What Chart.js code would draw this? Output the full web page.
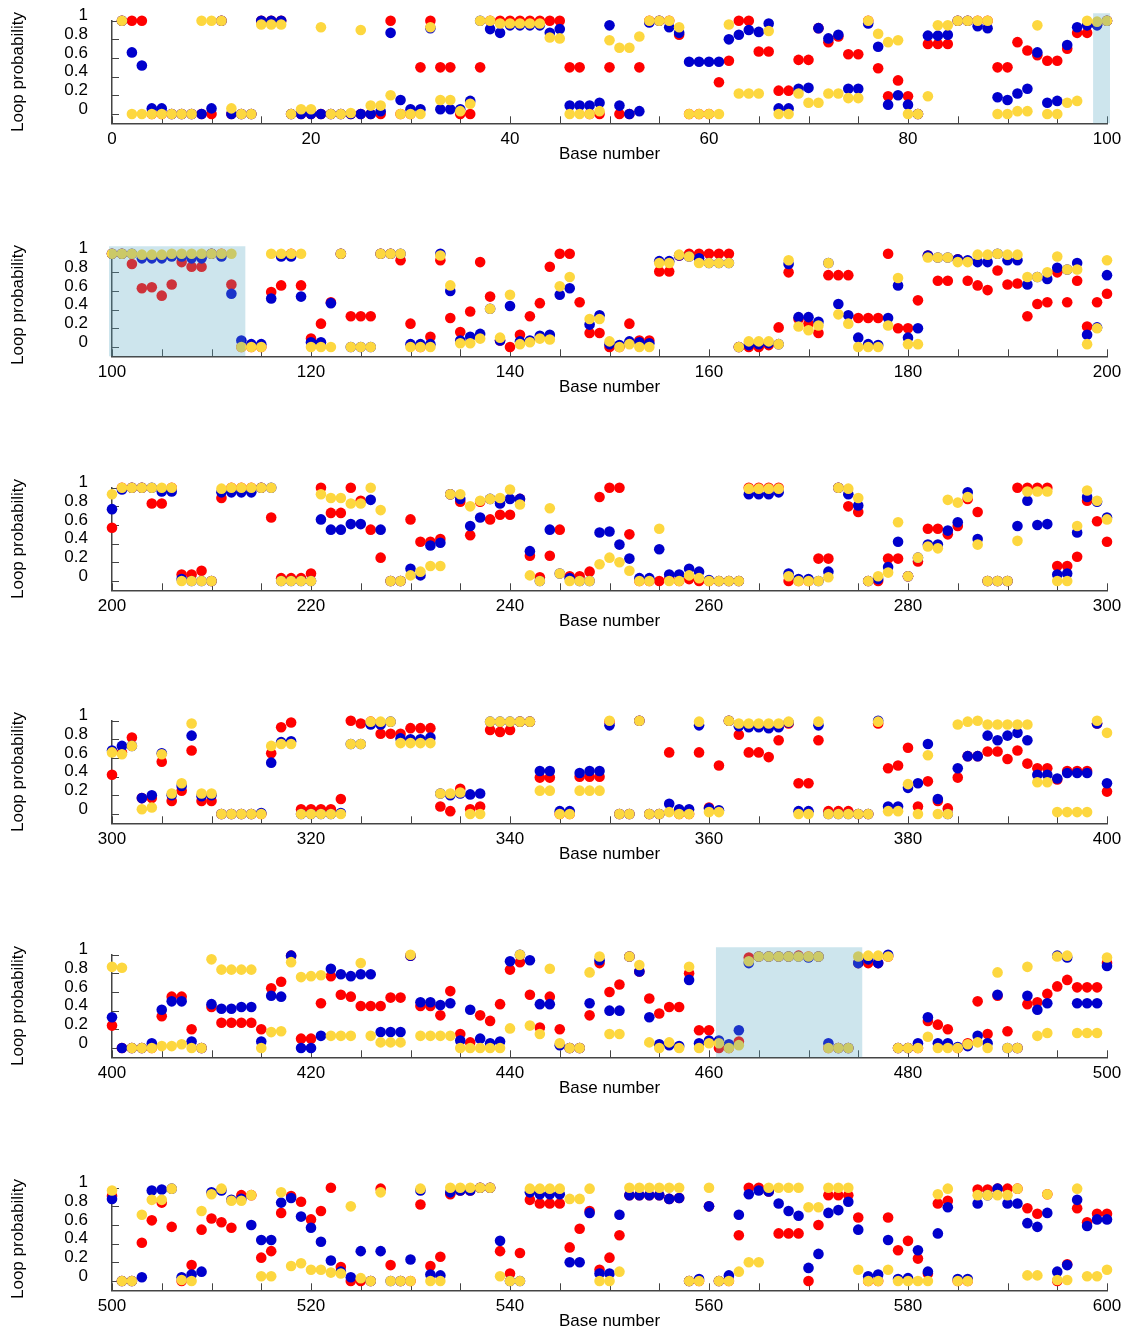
<!DOCTYPE html>
<html>
<head>
<meta charset="utf-8">
<script src="https://cdn.jsdelivr.net/npm/chart.js@4.4.1/dist/chart.umd.min.js"></script>
<style>
  html, body { margin: 0; padding: 0; background: #fff; overflow: hidden; }
  .panel { position: absolute; left: 0; width: 1131px; }
</style>
</head>
<body>
<div id="wrap"></div>
<script>
// loop probability per base (index 0 = base 1)
const redProb = [
  1, 1, 1, 0, 0, 0, 0, 0, 0, 0,
  1, 0, 0, 0, 1, 1, 1, 0, 0, 0,
  0, 0, 0, 0, 0, 0, 0, 1, 0, 0,
  0.5, 1, 0.5, 0.5, 0, 0, 0.5, 1, 1, 1,
  1, 1, 1, 1, 1, 0.5, 0.5, 0, 0, 0.5,
  0, 0, 0.5, 1, 1, 1, 0.85, 0, 0, 0,
  0.34, 0.57, 1, 1, 0.67, 0.67, 0.25, 0.25, 0.58, 0.58,
  0.92, 0.77, 0.83, 0.64, 0.64, 1, 0.49, 0.19, 0.36, 0.19,
  0, 0.75, 0.75, 0.75, 1, 1, 1, 1, 0.5, 0.5,
  0.77, 0.68, 0.63, 0.57, 0.57, 0.7, 0.87, 0.87, 0.96, 1,
  // 101-200
  1, 0.89, 0.63, 0.64, 0.55, 0.67, 0.91, 0.86, 0.86, 1,
  1, 0.67, 0, 0, 0, 0.59, 0.66, 1, 0.66, 0.09,
  0.25, 0.48, 1, 0.33, 0.33, 0.33, 1, 1, 0.93, 0.25,
  0, 0.11, 0.93, 0.31, 0.16, 0.38, 0.91, 0.54, 0.07, 0,
  0.13, 0.33, 0.47, 0.86, 1, 1, 0.48, 0.15, 0.15, 0,
  0, 0.25, 0.07, 0.07, 0.81, 0.81, 0.98, 1, 1, 1,
  1, 1, 0, 0, 0, 0.02, 0.21, 0.8, 0.3, 0.25,
  0.15, 0.77, 0.77, 0.77, 0.31, 0.31, 0.31, 1, 0.2, 0.2,
  0.5, 0.98, 0.71, 0.71, 0.94, 0.71, 0.66, 0.61, 0.82, 0.67,
  0.68, 0.33, 0.46, 0.48, 0.8, 0.48, 0.71, 0.22, 0.48, 0.57,
  // 201-300
  1, 1, 1, 0.83, 0.83, 1, 0.07, 0.07, 0.11, 0,
  0.89, 1, 1, 1, 1, 0.68, 0.03, 0.03, 0.03, 0.08,
  1, 0.73, 0.73, 1, 0.86, 0.55, 0.25, 0, 0, 0.66,
  0.42, 0.42, 0.45, 0.93, 0.85, 0.49, 0.85, 0.66, 0.71, 0.71,
  0.88, 0.27, 0.04, 0.27, 0.55, 0.05, 0.05, 0.1, 0.9, 1,
  1, 0.5, 0, 0, 0, 0.02, 0, 0.02, 0, 0,
  0, 0, 0, 1, 1, 1, 1, 0, 0, 0,
  0.24, 0.24, 1, 0.8, 0.74, 0, 0, 0.24, 0.24, 0.05,
  0.21, 0.56, 0.56, 0.5, 0.59, 0.88, 0.74, 0, 0, 0,
  1, 1, 1, 1, 0.16, 0.16, 0.26, 0.86, 0.64, 0.42,
  // 301-400
  0.66, 0.82, 0.17, 0.17, 0.56, 0.14, 0.25, 0.68, 0.14, 0.14,
  0, 0, 0, 0, 0, 0.65, 0.93, 0.98, 0.05, 0.05,
  0.05, 0.05, 0.16, 1, 0.97, 0.99, 0.86, 0.86, 0.86, 0.92,
  0.92, 0.92, 0.08, 0.03, 0.27, 0.05, 0.08, 0.9, 0.88, 0.9,
  0.99, 0.99, 0.39, 0.39, 0, 0, 0.4, 0.4, 0.4, 0.99,
  0, 0, 1, 0, 0, 0.66, 0, 0, 0.66, 0.07,
  0.52, 1, 0.85, 0.66, 0.66, 0.61, 0.79, 0.97, 0.33, 0.33,
  0.79, 0.03, 0.03, 0.03, 0, 0, 0.97, 0.49, 0.52, 0.71,
  0.08, 0.35, 0.14, 0.06, 0.39, 0.62, 0.62, 0.67, 0.67, 0.59,
  0.68, 0.54, 0.49, 0.49, 0.37, 0.46, 0.46, 0.46, 0.97, 0.24,
  // 401-500
  0, 0, 0, 0, 0.34, 0.55, 0.55, 0.2, 0, 0.44,
  0.27, 0.27, 0.27, 0.27, 0.2, 0.64, 0.71, 0.99, 0.1, 0.1,
  0.48, 0.77, 0.57, 0.55, 0.45, 0.45, 0.45, 0.54, 0.54, 0.99,
  0.45, 0.45, 0.35, 0.61, 0.15, 0.06, 0.35, 0.29, 0.47, 0.84,
  0.92, 0.57, 0.22, 0.55, 0.2, 0, 0, 0.35, 0.91, 0.6,
  0.68, 0.98, 0.82, 0.53, 0.37, 0.44, 0.44, 0.8, 0.19, 0.19,
  0, 0, 0.07, 0.97, 0.98, 0.98, 0.98, 0.98, 0.99, 0.98,
  0.98, 0, 0, 0, 0.91, 0.91, 0.91, 0.98, 0, 0,
  0, 0.29, 0.25, 0.2, 0, 0.05, 0.5, 0.15, 0.56, 0.18,
  0, 0.47, 0.49, 0.58, 0.66, 0.73, 0.65, 0.65, 0.65, 0.91,
  // 501-600
  0, 0, 0.41, 0.65, 0.84, 0.58, 0, 0.17, 0.55, 0.67,
  0.63, 0.57, 0.92, 0.92, 0.25, 0.32, 0.73, 0.91, 0.85, 0.66,
  0.75, 1, 0.15, 0, 0, 0, 0.99, 0.17, 0, 0,
  0.82, 0.16, 0.26, 0.93, 0.97, 0.97, 1, 1, 0.32, 0.08,
  0.3, 0.87, 0.83, 0.83, 0.83, 0.36, 0.56, 0.75, 0.12, 0.25,
  0.49, 0.92, 0.92, 0.92, 0.92, 0.88, 0.89, 0, 0, 0.8,
  0, 0, 0.49, 1, 1, 0.96, 0.51, 0.51, 0.51, 0,
  0.6, 0.92, 0.92, 0.92, 0.68, 0, 0, 0.68, 0.33, 0.43,
  0.24, 0.08, 0.83, 0.86, 0, 0, 0.98, 0.98, 0.99, 0.99,
  0.99, 0.78, 0.72, 0.93, 0, 0.18, 0.78, 0.63, 0.72, 0.72
];

const blueProb = [
  1, 0.66, 0.52, 0.06, 0.06, 0, 0, 0, 0, 0.06,
  1, 0, 0, 0, 1, 1, 1, 0, 0, 0,
  0, 0, 0, 0, 0, 0, 0.03, 0.87, 0.15, 0.05,
  0.05, 0.92, 0.05, 0.05, 0.05, 0.14, 1, 0.91, 0.87, 0.95,
  0.95, 0.95, 0.95, 0.87, 0.91, 0.09, 0.09, 0.09, 0.12, 0.95,
  0.09, 0, 0.03, 0.98, 1, 0.93, 0.87, 0.56, 0.56, 0.56,
  0.56, 0.8, 0.85, 0.9, 0.88, 0.97, 0.06, 0.06, 0.27, 0.28,
  0.92, 0.81, 0.85, 0.27, 0.27, 0.97, 0.72, 0.1, 0.2, 0.1,
  0, 0.84, 0.84, 0.85, 1, 1, 0.94, 0.92, 0.18, 0.15,
  0.22, 0.27, 0.66, 0.12, 0.14, 0.74, 0.93, 0.95, 0.95, 1,
  // 101-200
  1, 1, 0.95, 0.95, 0.95, 0.97, 0.97, 0.95, 0.95, 1,
  0.97, 0.57, 0.07, 0.03, 0.03, 0.52, 0.97, 0.97, 0.54, 0.05,
  0.05, 0.47, 1, 0, 0, 0, 1, 1, 1, 0.03,
  0.03, 0.03, 1, 0.6, 0.07, 0.11, 0.14, 0.41, 0.07, 0.44,
  0.06, 0.07, 0.12, 0.13, 0.56, 0.63, null, 0.24, 0.34, 0.03,
  0.02, 0.06, 0.05, 0.04, 0.92, 0.92, 0.98, 0.97, 0.95, 0.9,
  0.9, 0.9, 0, 0.02, 0.03, 0.04, 0.03, 0.89, 0.32, 0.32,
  0.27, 0.9, 0.46, 0.34, 0.1, 0.03, 0.02, 0.31, 0.66, 0.1,
  0.2, 0.98, 0.96, 0.96, 0.94, 0.93, 0.91, 0.91, 1, 0.93,
  0.93, 0.67, 0.75, 0.73, 0.85, 0.83, 0.9, 0.13, 0.21, 0.77,
  // 201-300
  0.98, 1, 1, 1, 0.96, 0.96, 0.02, 0, 0, 0,
  0.95, 0.95, 0.95, 0.95, 1, 1, 0, 0, 0, 0,
  0.66, 0.55, 0.55, 0.61, 0.61, 0.87, 0.55, 0, 0, 0.13,
  0.06, 0.38, 0.41, 0.93, 0.88, 0.59, 0.68, 0.88, 0.83, 0.88,
  0.88, 0.32, 0, 0.55, 0.08, 0.03, 0, 0, 0.52, 0.53,
  0.39, 0.24, 0.03, 0.03, 0.34, 0.07, 0.07, 0.13, 0.1, 0.01,
  0, 0, 0, 0.93, 0.93, 0.93, 0.95, 0.08, 0.02, 0.02,
  0, 0.1, 1, 0.93, 0.81, 0, 0.02, 0.15, 0.42, 0.05,
  0.25, 0.39, 0.39, 0.54, 0.63, 0.95, 0.45, 0, 0, 0,
  0.59, 0.86, 0.6, 0.61, 0.07, 0.08, 0.52, 0.9, 0.85, 0.68,
  // 301-400
  0.73, 0.73, 0.17, 0.2, 0.65, 0.2, 0.3, 0.84, 0.19, 0.2,
  0, 0, 0, 0, 0.01, 0.55, 0.77, 0.78, 0, 0,
  0, 0, 0.01, 0.75, 0.75, 0.96, 0.96, 0.99, 0.81, 0.8,
  0.8, 0.82, 0.22, 0.2, 0.22, 0.21, 0.22, 0.99, 0.99, 0.99,
  0.99, 0.99, 0.46, 0.46, 0.03, 0.03, 0.44, 0.46, 0.46, 0.95,
  0, 0, 1, 0, 0, 0.11, 0.05, 0.05, 0.95, 0.06,
  0.04, 1, 0.94, 0.93, 0.93, 0.92, 0.93, 0.98, 0.03, 0.03,
  0.95, 0, 0, 0, 0, 0, 1, 0.08, 0.08, 0.28,
  0.33, 0.75, 0.16, 0, 0.49, 0.62, 0.62, 0.84, 0.79, 0.84,
  0.87, 0.79, 0.42, 0.42, 0.38, 0.44, 0.44, 0.44, 0.97, 0.33,
  // 401-500
  0, 0, 0, 0.05, 0.41, 0.5, 0.5, 0.07, 0, 0.47,
  0.42, 0.42, 0.44, 0.44, 0.07, 0.56, 0.55, 0.99, 0, 0,
  0.13, 0.85, 0.79, 0.77, 0.79, 0.79, 0.17, 0.17, 0.17, 0.99,
  0.49, 0.49, 0.46, 0.48, 0.08, 0.41, 0.1, 0.05, 0.07, 0.93,
  1, 0.94, 0.47, 0.47, 0.03, 0, 0, 0.48, 0.94, 0.4,
  0.4, 0.98, 0.82, 0.33, 0.04, 0.03, 0.02, 0.73, 0.05, 0.08,
  0.08, 0.04, 0.19, 0.91, 0.98, 0.98, 0.98, 0.98, 0.98, 0.97,
  0.98, 0.05, 0, 0, 0.91, 0.95, 0.91, 1, 0, 0,
  0.05, 0.33, 0.05, 0.05, 0.01, 0.02, 0.13, 0.05, 0.57, 0,
  0, 0.56, 0.41, 0.48, 0.99, 0.97, 0.48, 0.48, 0.48, 0.88,
  // 501-600
  0, 0, 0.04, 0.97, 0.98, 0.99, 0.04, 0.07, 0.1, 0.95,
  0.97, 0.87, 0.88, 0.6, 0.44, 0.44, 0.84, 0.89, 0.69, 0.57,
  0.42, 0.22, 0.1, 0.04, 0.32, 0, 0.32, 0, 0, 0.23,
  0.97, 0.07, 0.06, 0.95, 0.97, 0.97, 1, 1, 0.43, 0,
  0, 0.95, 0.93, 0.93, 0.93, 0.2, 0.2, 0.73, 0.08, 0.08,
  0.71, 0.92, 0.92, 0.92, 0.92, 0.88, 0.89, 0, 0.02, 0.8,
  0, 0.06, 0.71, 0.93, 0.97, 0.96, 0.83, 0.75, 0.7, 0.14,
  0.29, 0.73, 0.76, 0.85, 0.55, 0.05, 0.07, 0.44, 0.02, 0.03,
  0.33, 0.1, 0.51, 0.79, 0.02, 0.02, 0.83, 0.92, 0.99, 0.83,
  0.83, 0.62, 0.58, 0.73, 0.1, 0.17, 0.87, 0.59, 0.66, 0.66
];

const yellowProb = [
  1, 0, 0, 0, 0, 0, 0, 0, 1, 1,
  1, 0.06, 0, 0, 0.96, 0.96, 0.96, 0, 0.05, 0.05,
  0.93, 0, 0, 0.01, 0.9, 0.09, 0.09, 0.2, 0, 0,
  0, 0.93, 0.15, 0.15, 0.03, 0.11, 1, 1, 0.97, 0.97,
  0.97, 0.97, 0.97, 0.82, 0.81, 0, 0, 0, 0.03, 0.79,
  0.71, 0.71, 0.83, 1, 1, 1, 0.93, 0, 0, 0,
  0, 0.96, 0.22, 0.22, 0.22, 0.89, 0, 0, 0.22, 0.12,
  0.12, 0.22, 0.22, 0.17, 0.17, 1, 0.86, 0.77, 0.79, 0,
  0, 0.19, 0.95, 0.95, 1, 1, 1, 1, 0, 0,
  0.03, 0.03, 0.95, 0, 0, 0.12, 0.14, 1, 0.99, 1,
  // 101-200
  1, 1, 0.99, 0.99, 0.99, 1, 1, 1, 1, 1,
  1, 1, 0, 0, 0, 1, 1, 1, 1, 0,
  0, 0, 1, 0, 0, 0, 1, 1, 1, 0,
  0, 0, 0.98, 0.66, 0.04, 0.04, 0.09, 0.41, 0.1, 0.56,
  0.03, 0.05, 0.09, 0.08, 0.65, 0.75, null, 0.3, 0.3, 0.06,
  0, 0.03, 0, 0, 0.9, 0.9, 0.99, 0.97, 0.9, 0.9,
  0.9, 0.9, 0, 0.06, 0.06, 0.06, 0.03, 0.93, 0.22, 0.18,
  0.23, 0.9, 0.35, 0.25, 0, 0, 0, 0.23, 0.74, 0.03,
  0.03, 0.96, 0.96, 0.96, 0.91, 0.91, 0.99, 0.99, 1, 0.99,
  0.99, 0.75, 0.75, 0.8, 0.97, 0.83, 0.83, 0.03, 0.2, 0.93,
  // 201-300
  1, 1, 1, 1, 1, 1, 0, 0, 0, 0,
  0.99, 1, 1, 1, 1, 1, 0, 0, 0, 0,
  0.93, 0.89, 0.89, 0.83, 0.83, 1, 0.76, 0, 0, 0.06,
  0.1, 0.16, 0.16, 0.93, 0.93, 0.8, 0.86, 0.88, 0.89, 0.98,
  0.82, 0.06, 0, 0.78, 0.08, 0, 0, 0, 0.18, 0.25,
  0.2, 0.11, 0, 0, 0.56, 0, 0, 0.06, 0.03, 0,
  0, 0, 0, 0.99, 0.99, 0.99, 0.99, 0.05, 0, 0,
  0, 0.04, 1, 0.99, 0.89, 0, 0.05, 0.09, 0.63, 0.05,
  0.25, 0.37, 0.35, 0.87, 0.84, 0.9, 0.39, 0, 0, 0,
  0.43, 0.96, 0.96, 0.96, 0, 0, 0.59, 0.97, 0.86, 0.66,
  // 301-400
  0.64, 0.73, 0.05, 0.07, 0.64, 0.22, 0.33, 0.97, 0.22, 0.22,
  0, 0, 0, 0, 0, 0.73, 0.75, 0.75, 0, 0,
  0, 0, 0, 0.75, 0.75, 0.99, 0.99, 0.99, 0.76, 0.76,
  0.76, 0.76, 0.22, 0.22, 0.23, 0, 0, 0.99, 0.99, 0.99,
  0.99, 0.99, 0.25, 0.25, 0, 0, 0.25, 0.25, 0.25, 1,
  0, 0, 1, 0, 0, 0.02, 0, 0, 0.99, 0.02,
  0.02, 1, 0.97, 0.97, 0.97, 0.97, 0.97, 0.99, 0, 0,
  0.99, 0, 0, 0, 0, 0, 0.99, 0.03, 0.03, 0.32,
  0, 0.63, 0, 0, 0.96, 0.99, 1, 0.96, 0.96, 0.96,
  0.96, 0.96, 0.34, 0.34, 0.02, 0.02, 0.02, 0.02, 1, 0.87,
  // 401-500
  0.86, 0, 0, 0, 0.02, 0.02, 0.04, 0, 0, 0.95,
  0.84, 0.84, 0.84, 0.84, 0, 0.17, 0.18, 0.92, 0.76, 0.77,
  0.78, 0.13, 0.13, 0.13, 0.91, 0.13, 0.06, 0.06, 0.06, 1,
  0.13, 0.13, 0.13, 0.13, 0, 0, 0, 0, 0, 0.21,
  1, 0.24, 0.15, 0.85, 0.05, 0, 0, 0.81, 0.98, 0.15,
  0.15, 0.98, 0.89, 0.06, 0, 0.06, 0, 0.87, 0, 0.05,
  0.05, 0, 0.03, 0.93, 0.98, 0.98, 0.98, 0.98, 0.98, 0.98,
  0.98, 0, 0, 0, 0.98, 0.99, 0.99, 0.98, 0, 0,
  0, 0.12, 0, 0, 0, 0.04, 0.06, 0, 0.81, 0,
  0, 0.87, 0.13, 0.16, 0.98, 0.99, 0.16, 0.16, 0.16, 0.97,
  // 501-600
  0, 0, 0.71, 0.87, 0.87, 0.99, 0.01, 0, 0.75, 0.93,
  0.99, 0.86, 0.86, 0.92, 0.05, 0.05, 0.95, 0.16, 0.19, 0.12,
  0.12, 0.09, 0.08, 0.8, 0.03, 0, 0.95, 0, 0, 0,
  0.99, 0, 0, 1, 1, 1, 1, 1, 0.05, 0,
  0, 0.99, 0.99, 0.99, 0.99, 0.88, 0.88, 0.99, 0, 0,
  0.1, 1, 1, 1, 1, 1, 1, 0, 0, 1,
  0, 0, 0.1, 0.2, 0.2, 1, 1, 1, 1, 0.79,
  0.79, 1, 1, 1, 0.12, 0, 0, 0.12, 0, 0,
  0, 0, 0.93, 0.99, 0, 0, 0.92, 0.92, 0.92, 0.92,
  0.99, 0.06, 0.06, 0.93, 0.01, 0.01, 0.99, 0.05, 0.05, 0.12
];

const panelStarts = [0, 100, 200, 300, 400, 500];
const panelSpan = 100;
const shadedRanges = [[98.6, 113.4], [460.7, 475.4]];
const yTickValues = [0, 0.2, 0.4, 0.6, 0.8, 1];
const xLabelStep = 20;
const xMinorStep = 5;

const colRed = '#ff0000';
const colBlue = '#0000cc';
const colYellow = '#fdd73f';
const axisColor = '#444444';
const fontFamily = "'Liberation Sans', Arial, sans-serif";

function pointsFor(arr, start) {
  const pts = [];
  for (let b = Math.max(1, start); b <= start + panelSpan; b++) {
    const v = arr[b - 1];
    if (v !== null && v !== undefined) pts.push({x: b, y: v});
  }
  return pts;
}

// inward tick marks on both axes
const innerTicks = {
  id: 'innerTicks',
  beforeDatasetsDraw(chart) {
    const {ctx, chartArea: a, scales: {x, y}} = chart;
    ctx.save();
    ctx.strokeStyle = axisColor;
    ctx.lineWidth = 1;
    ctx.beginPath();
    for (let v = x.min; v <= x.max + 0.001; v += xMinorStep) {
      const px = Math.round(x.getPixelForValue(v)) + 0.5;
      ctx.moveTo(px, a.bottom);
      ctx.lineTo(px, a.bottom - 7);
    }
    yTickValues.forEach(v => {
      const py = Math.round(y.getPixelForValue(v)) + 0.5;
      ctx.moveTo(a.left, py);
      ctx.lineTo(a.left + 7, py);
    });
    ctx.stroke();
    ctx.restore();
  }
};

// light blue highlight laid over the points
const shadeBands = {
  id: 'shadeBands',
  afterDatasetsDraw(chart) {
    const {ctx, chartArea: a, scales: {x, y}} = chart;
    ctx.save();
    ctx.fillStyle = 'rgba(90, 170, 195, 0.3)';
    shadedRanges.forEach(([s, e]) => {
      const lo = Math.max(s, x.min - 0.3);
      const hi = Math.min(e, x.max + 0.3);
      if (hi <= lo) return;
      const x0 = x.getPixelForValue(lo);
      const x1 = x.getPixelForValue(hi);
      const top = y.getPixelForValue(1.08);
      ctx.fillRect(x0, top, x1 - x0, a.bottom - top);
    });
    ctx.restore();
  }
};

const wrap = document.getElementById('wrap');
const axisH = 41;

panelStarts.forEach((start, i) => {
  const top = Math.round(i * 233.4);
  const h = i === panelStarts.length - 1 ? 1334 - top : 234;
  const div = document.createElement('div');
  div.className = 'panel';
  div.style.top = top + 'px';
  div.style.height = h + 'px';
  const cv = document.createElement('canvas');
  cv.width = 1131;
  cv.height = h;
  div.appendChild(cv);
  wrap.appendChild(div);

  const ds = (label, arr, color) => ({
    label: label,
    data: pointsFor(arr, start),
    backgroundColor: color,
    borderWidth: 0,
    pointRadius: 5.3,
    pointHoverRadius: 5.3,
    showLine: false,
    clip: false
  });

  new Chart(cv, {
    type: 'scatter',
    data: {
      // first dataset is painted last, so yellow ends up on top
      datasets: [
        ds('yellow', yellowProb, colYellow),
        ds('blue', blueProb, colBlue),
        ds('red', redProb, colRed)
      ]
    },
    options: {
      responsive: false,
      animation: false,
      devicePixelRatio: 1,
      layout: { padding: { left: 0, right: 24, top: 20.7, bottom: h - 123.3 - axisH } },
      plugins: { legend: { display: false }, tooltip: { enabled: false } },
      scales: {
        x: {
          type: 'linear',
          min: start,
          max: start + panelSpan,
          afterFit: s => { s.height = axisH; s.paddingLeft = 0; s.paddingRight = 0; },
          grid: { display: false, drawTicks: false },
          border: { display: true, color: axisColor, width: 1.5 },
          ticks: {
            stepSize: xLabelStep,
            color: '#000',
            padding: 6,
            maxRotation: 0,
            autoSkip: false,
            font: { family: fontFamily, size: 17 }
          },
          title: {
            display: true,
            text: 'Base number',
            color: '#000',
            padding: { top: 0, bottom: 0 },
            font: { family: fontFamily, size: 17 }
          }
        },
        y: {
          type: 'linear',
          min: -0.1,
          max: 1,
          afterFit: s => { s.width = 112; s.paddingTop = 0; s.paddingBottom = 0; },
          afterBuildTicks: s => { s.ticks = yTickValues.map(v => ({ value: v })); },
          grid: { display: false, drawTicks: false },
          border: { display: true, color: axisColor, width: 1.5 },
          ticks: {
            color: '#000',
            padding: 24,
            labelOffset: -5,
            autoSkip: false,
            font: { family: fontFamily, size: 17 },
            callback: v => String(+Number(v).toFixed(1))
          },
          title: {
            display: true,
            text: 'Loop probability',
            color: '#000',
            padding: { top: 8, bottom: 0 },
            font: { family: fontFamily, size: 17 }
          }
        }
      }
    },
    plugins: [innerTicks, shadeBands]
  });
});
</script>
</body>
</html>
